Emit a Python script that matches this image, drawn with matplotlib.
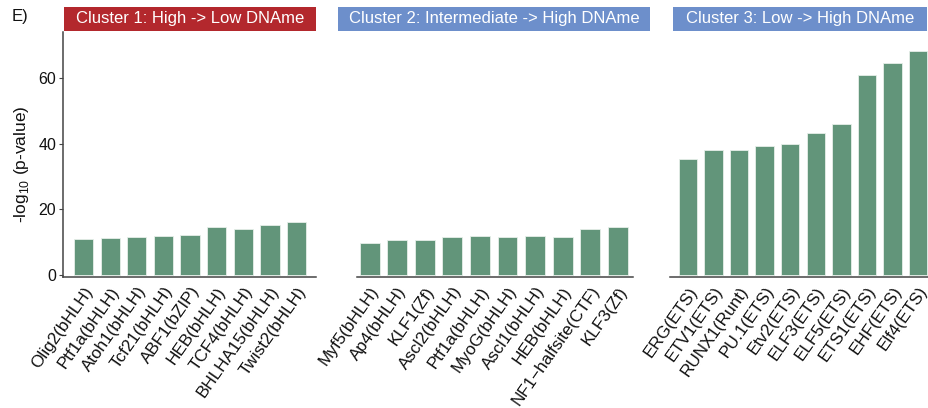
import matplotlib
matplotlib.use("Agg")
from matplotlib import pyplot as plt
from matplotlib.patches import Rectangle

plt.rcParams['font.family'] = ['Liberation Sans', 'DejaVu Sans']

# motif enrichment per cluster, -log10(p)
motifs_c1 = ['Olig2(bHLH)', 'Ptf1a(bHLH)', 'Atoh1(bHLH)', 'Tcf21(bHLH)', 'ABF1(bZIP)',
             'HEB(bHLH)', 'TCF4(bHLH)', 'BHLHA15(bHLH)', 'Twist2(bHLH)']
pval_c1 = [11.0, 11.2, 11.6, 11.8, 12.1, 14.4, 13.8, 15.1, 16.0]

motifs_c2 = ['Myf5(bHLH)', 'Ap4(bHLH)', 'KLF1(Zf)', 'Ascl2(bHLH)', 'Ptf1a(bHLH)',
             'MyoG(bHLH)', 'Ascl1(bHLH)', 'HEB(bHLH)', 'NF1\u2212halfsite(CTF)', 'KLF3(Zf)']
pval_c2 = [9.7, 10.5, 10.6, 11.4, 11.8, 11.5, 11.8, 11.4, 13.9, 14.4]

motifs_c3 = ['ERG(ETS)', 'ETV1(ETS)', 'RUNX1(Runt)', 'PU.1(ETS)', 'Etv2(ETS)',
             'ELF3(ETS)', 'ELF5(ETS)', 'ETS1(ETS)', 'EHF(ETS)', 'Elf4(ETS)']
pval_c3 = [35.2, 37.9, 37.9, 39.2, 39.9, 43.2, 45.8, 61.0, 64.5, 68.1]

titles = ['Cluster 1: High -> Low DNAme',
          'Cluster 2: Intermediate -> High DNAme',
          'Cluster 3: Low -> High DNAme']
strip_colors = ['#B3282D', '#6D8FCB', '#6D8FCB']

bar_color = '#62957A'
W, H = 929, 408

fig = plt.figure(figsize=(W / 100, H / 100), dpi=100)


def px(l, r, t, b):
    return [l / W, 1 - b / H, (r - l) / W, (b - t) / H]


# (axes rect, xlim, spine bounds, strip span)
panels = [
    (px(63, 316, 32, 277), (-0.77, 8.73), (-0.77, 8.73), (64, 316)),
    (px(338, 650, 32, 277), (-1.15, 10.17), (-0.46, 9.55), (338, 650)),
    (px(670, 929, 32, 277), (-0.70, 9.43), (-0.70, 9.43), (673, 927)),
]
data = [(motifs_c1, pval_c1), (motifs_c2, pval_c2), (motifs_c3, pval_c3)]

for i, ((rect, xl, sb, strip), (names, vals)) in enumerate(zip(panels, data)):
    ax = fig.add_axes(rect)
    x = list(range(len(names)))
    ax.bar(x, vals, width=0.72, color=bar_color, edgecolor='#E6EFE9', linewidth=0.6)
    ax.set_xlim(*xl)
    ax.set_ylim(-0.7, 74)
    ax.set_xticks(x)
    ax.set_xticklabels(names, rotation=55, ha='right', va='top',
                       rotation_mode='anchor', fontsize=12.3, color='#111111')
    ax.tick_params(axis='x', length=0, pad=5)
    for s in ['top', 'right']:
        ax.spines[s].set_visible(False)
    ax.spines['bottom'].set_color('#444444')
    ax.spines['bottom'].set_linewidth(1.1)
    ax.spines['bottom'].set_bounds(*sb)
    ax.set_facecolor('none')
    if i == 0:
        ax.spines['left'].set_color('#444444')
        ax.spines['left'].set_linewidth(1.1)
        ax.set_yticks([0, 20, 40, 60])
        ax.tick_params(axis='y', length=3, width=0.8, color='#444444',
                       labelsize=11.5, labelcolor='#111111', pad=2)
    else:
        ax.spines['left'].set_visible(False)
        ax.set_yticks([])

    # facet strip above each panel
    l, r = strip
    fig.add_artist(Rectangle((l / W, 1 - 31 / H), (r - l) / W, 24 / H,
                             transform=fig.transFigure, facecolor=strip_colors[i],
                             edgecolor='none'))
    fig.text((l + r) / 2 / W, 1 - 19 / H, titles[i], ha='center', va='center',
             color='white', fontsize=12)

# y axis title with a small subscript
fig.text(22 / W, 1 - 164 / H, r'-log$_{\mathregular{10}}$ (p-value)', rotation=90,
         ha='center', va='center', fontsize=12.5, color='#111111')
fig.text(12 / W, 1 - 16 / H, 'E)', ha='left', va='center', fontsize=12, color='#111111')

plt.savefig('out.png', dpi=100)
